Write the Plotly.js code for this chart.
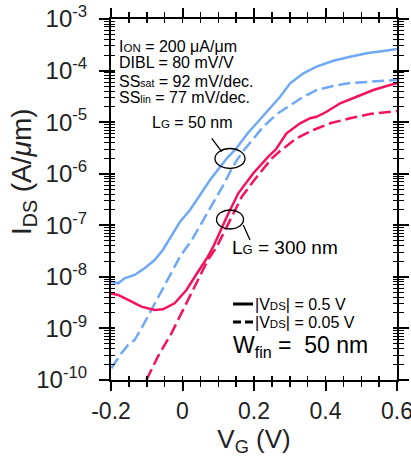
<!DOCTYPE html>
<html><head><meta charset="utf-8">
<script src="https://cdn.plot.ly/plotly-3.0.1.min.js"></script>
<style>html,body{margin:0;padding:0;background:#fff}#chart{width:411px;height:462px}</style>
</head><body><div id="chart"></div>
<script>
// LG = 50 nm, |VDS| = 0.5 V
const vgBlueSolid = [-0.200,-0.180,-0.162,-0.134,-0.106,-0.078,-0.055,-0.007,0.021,0.057,0.077,0.105,0.127,0.147,0.183,0.208,0.245,0.273,0.301,0.338,0.375,0.422,0.469,0.515,0.562,0.600];
const idBlueSolid = [8.05e-9,7.50e-9,9.37e-9,1.09e-8,1.47e-8,2.12e-8,3.32e-8,1.17e-7,1.98e-7,4.62e-7,7.55e-7,1.35e-6,2.11e-6,2.88e-6,6.15e-6,9.62e-6,1.88e-5,3.11e-5,5.66e-5,8.85e-5,1.19e-4,1.55e-4,1.86e-4,2.16e-4,2.39e-4,2.62e-4];
// LG = 50 nm, |VDS| = 0.05 V
const vgBlueDash = [-0.199,-0.171,-0.152,-0.134,-0.115,-0.087,-0.059,-0.027,-0.007,0.006,0.026,0.058,0.086,0.113,0.133,0.152,0.170,0.189,0.225,0.264,0.301,0.337,0.376,0.421,0.469,0.516,0.561,0.600];
const idBlueDash = [1.69e-10,3.30e-10,4.77e-10,5.96e-10,1.00e-9,2.28e-9,5.56e-9,1.36e-8,2.46e-8,3.32e-8,5.19e-8,1.26e-7,2.67e-7,5.78e-7,1.08e-6,1.84e-6,2.75e-6,3.94e-6,8.05e-6,1.44e-5,2.15e-5,3.07e-5,4.20e-5,5.02e-5,5.74e-5,6.00e-5,6.28e-5,6.57e-5];
// LG = 300 nm, |VDS| = 0.5 V
const vgRedSolid = [-0.200,-0.180,-0.152,-0.115,-0.078,-0.055,-0.022,0.011,0.043,0.071,0.086,0.124,0.156,0.198,0.240,0.262,0.291,0.329,0.357,0.375,0.403,0.441,0.487,0.534,0.571,0.600];
const idRedSolid = [4.75e-9,4.45e-9,3.56e-9,2.64e-9,2.28e-9,2.35e-9,3.07e-9,5.56e-9,1.24e-8,2.46e-8,3.85e-8,1.47e-7,4.17e-7,1.02e-6,2.14e-6,3.01e-6,6.08e-6,9.50e-6,1.19e-5,1.27e-5,1.59e-5,2.32e-5,3.11e-5,4.20e-5,5.02e-5,5.66e-5];
// LG = 300 nm, |VDS| = 0.05 V
const vgRedDash = [-0.101,-0.069,-0.031,0.006,0.043,0.071,0.096,0.133,0.166,0.208,0.250,0.273,0.319,0.366,0.413,0.469,0.524,0.600];
const idRedDash = [1.0e-10,2.83e-10,8.04e-10,2.64e-9,8.69e-9,2.12e-8,3.85e-8,1.26e-7,3.58e-7,8.75e-7,1.99e-6,2.75e-6,4.86e-6,7.05e-6,9.50e-6,1.19e-5,1.44e-5,1.64e-5];

const xTickVals = [-0.2, 0, 0.2, 0.4, 0.6];
const xTickText = ['-0.2', '0', '0.2', '0.4', '0.6'];
const yTickVals = [1e-10, 1e-9, 1e-8, 1e-7, 1e-6, 1e-5, 1e-4, 1e-3];
const yTickText = ['10<sup>-10</sup>','10<sup>-9</sup>','10<sup>-8</sup>','10<sup>-7</sup>','10<sup>-6</sup>','10<sup>-5</sup>','10<sup>-4</sup>','10<sup>-3</sup>'];

const BLUE = '#6ea8f6';
const RED = '#f5125c';
const FONT = 'Liberation Sans, Arial, sans-serif';
const DASH = '12px,5px';

function tr(x, y, color, dash) {
  return {x: x, y: y, type: 'scatter', mode: 'lines', showlegend: false, hoverinfo: 'skip',
    line: {color: color, width: 2.5, dash: dash}};
}
const data = [
  tr(vgBlueSolid, idBlueSolid, BLUE, 'solid'),
  tr(vgBlueDash, idBlueDash, BLUE, DASH),
  tr(vgRedSolid, idRedSolid, RED, 'solid'),
  tr(vgRedDash, idRedDash, RED, DASH),
  {x: [null], y: [null], xaxis: 'x2', yaxis: 'y2', type: 'scatter', mode: 'lines', showlegend: false, hoverinfo: 'skip'}
];

function px(x) { return (x - 111) / 286; }
function py(y) { return (380 - y) / 361; }

const ann = (x, y, text, size, extra) => Object.assign({xref: 'paper', yref: 'paper', x: px(x), y: py(y), text: text,
  showarrow: false, xanchor: 'left', yanchor: 'middle', font: {family: FONT, size: size, color: '#000'}}, extra || {});

const layout = {
  width: 411, height: 462,
  margin: {l: 111, r: 14, t: 19, b: 82},
  paper_bgcolor: '#fff', plot_bgcolor: '#fff',
  font: {family: FONT, color: '#000'},
  xaxis: {
    range: [-0.2, 0.6], tickmode: 'array', tickvals: xTickVals, ticktext: xTickText,
    ticks: 'outside', ticklen: 9, tickwidth: 2, tickcolor: '#000', ticklabeloverflow: 'allow',
    showline: true, linewidth: 2, linecolor: '#000', mirror: 'allticks',
    showgrid: false, zeroline: false,
    minor: {ticks: 'outside', ticklen: 5, tickwidth: 1.5, tickcolor: '#000', tickmode: 'linear', tick0: 0, dtick: 0.05, showgrid: false},
    tickfont: {family: FONT, size: 23, color: '#222'},
    title: {text: 'V<sub>G</sub> (V)', font: {family: FONT, size: 26, color: '#222'}, standoff: 4}
  },
  yaxis: {
    type: 'log', range: [-10, -3], tickmode: 'array', tickvals: yTickVals, ticktext: yTickText,
    ticks: 'outside', ticklen: 10, tickwidth: 2, tickcolor: '#000', ticklabeloverflow: 'allow',
    ticklabelstandoff: 7,
    showline: true, linewidth: 2, linecolor: '#000', mirror: 'allticks',
    showgrid: false, zeroline: false,
    minor: {ticks: 'outside', ticklen: 5, tickwidth: 1, tickcolor: '#000', dtick: 'D1', showgrid: false},
    tickfont: {family: FONT, size: 24, color: '#222'}
  },
  xaxis2: {
    overlaying: 'x', anchor: 'y2', range: [-0.2, 0.6], tickmode: 'linear', tick0: 0, dtick: 0.05,
    ticks: 'inside', ticklen: 4, tickwidth: 1.5, tickcolor: '#000', mirror: 'allticks',
    showticklabels: false, showgrid: false, zeroline: false, showline: false
  },
  yaxis2: {
    overlaying: 'y', anchor: 'x2', type: 'log', range: [-10, -3], tickmode: 'array', tickvals: yTickVals,
    ticks: 'inside', ticklen: 4, tickwidth: 2, tickcolor: '#000', mirror: 'allticks',
    minor: {ticks: 'inside', ticklen: 4, tickwidth: 1, tickcolor: '#000', dtick: 'D1', showgrid: false},
    showticklabels: false, showgrid: false, zeroline: false, showline: false
  },
  shapes: [
    {type: 'circle', xref: 'paper', yref: 'paper', x0: px(215), x1: px(245), y0: py(168.5), y1: py(148.5), line: {color: '#000', width: 1.3}},
    {type: 'line', xref: 'paper', yref: 'paper', x0: px(211.7), y0: py(138.3), x1: px(221.7), y1: py(151.7), line: {color: '#000', width: 1.3}},
    {type: 'circle', xref: 'paper', yref: 'paper', x0: px(216.5), x1: px(243.5), y0: py(229), y1: py(210), line: {color: '#000', width: 1.3}},
    {type: 'line', xref: 'paper', yref: 'paper', x0: px(243.3), y0: py(225), x1: px(250), y1: py(240), line: {color: '#000', width: 1.3}},
    {type: 'line', xref: 'paper', yref: 'paper', x0: px(233), y0: py(304), x1: px(253), y1: py(304), line: {color: '#000', width: 3}},
    {type: 'line', xref: 'paper', yref: 'paper', x0: px(233), y0: py(322), x1: px(253), y1: py(322), line: {color: '#000', width: 3, dash: '8px,4px'}}
  ],
  annotations: [
    ann(24, 172, 'I<sub>DS</sub> (A/<i>μ</i>m)', 28, {xanchor: 'center', textangle: -90, font: {family: FONT, size: 28, color: '#222'}}),
    ann(117, 46.5, 'I<span style="font-size:11.5px">ON</span> = 200 μA/μm', 16),
    ann(117, 63, 'DIBL = 80 mV/V', 16),
    ann(117, 81, 'SS<span style="font-size:10.5px">sat</span> = 92 mV/dec.', 16),
    ann(117, 97, 'SS<span style="font-size:10.5px">lin</span> = 77 mV/dec.', 16),
    ann(150, 122, 'L<span style="font-size:11.5px">G</span> = 50 nm', 16),
    ann(230, 248, 'L<span style="font-size:13px">G</span> = 300 nm', 19),
    ann(253, 304, '|V<span style="font-size:11.5px">DS</span>| = 0.5 V', 16),
    ann(253, 322, '|V<span style="font-size:11.5px">DS</span>| = 0.05 V', 16),
    ann(231, 346, 'W<sub>fin</sub> =  50 nm', 23)
  ]
};
Plotly.newPlot('chart', data, layout, {staticPlot: true, displayModeBar: false});
</script>
</body></html>
